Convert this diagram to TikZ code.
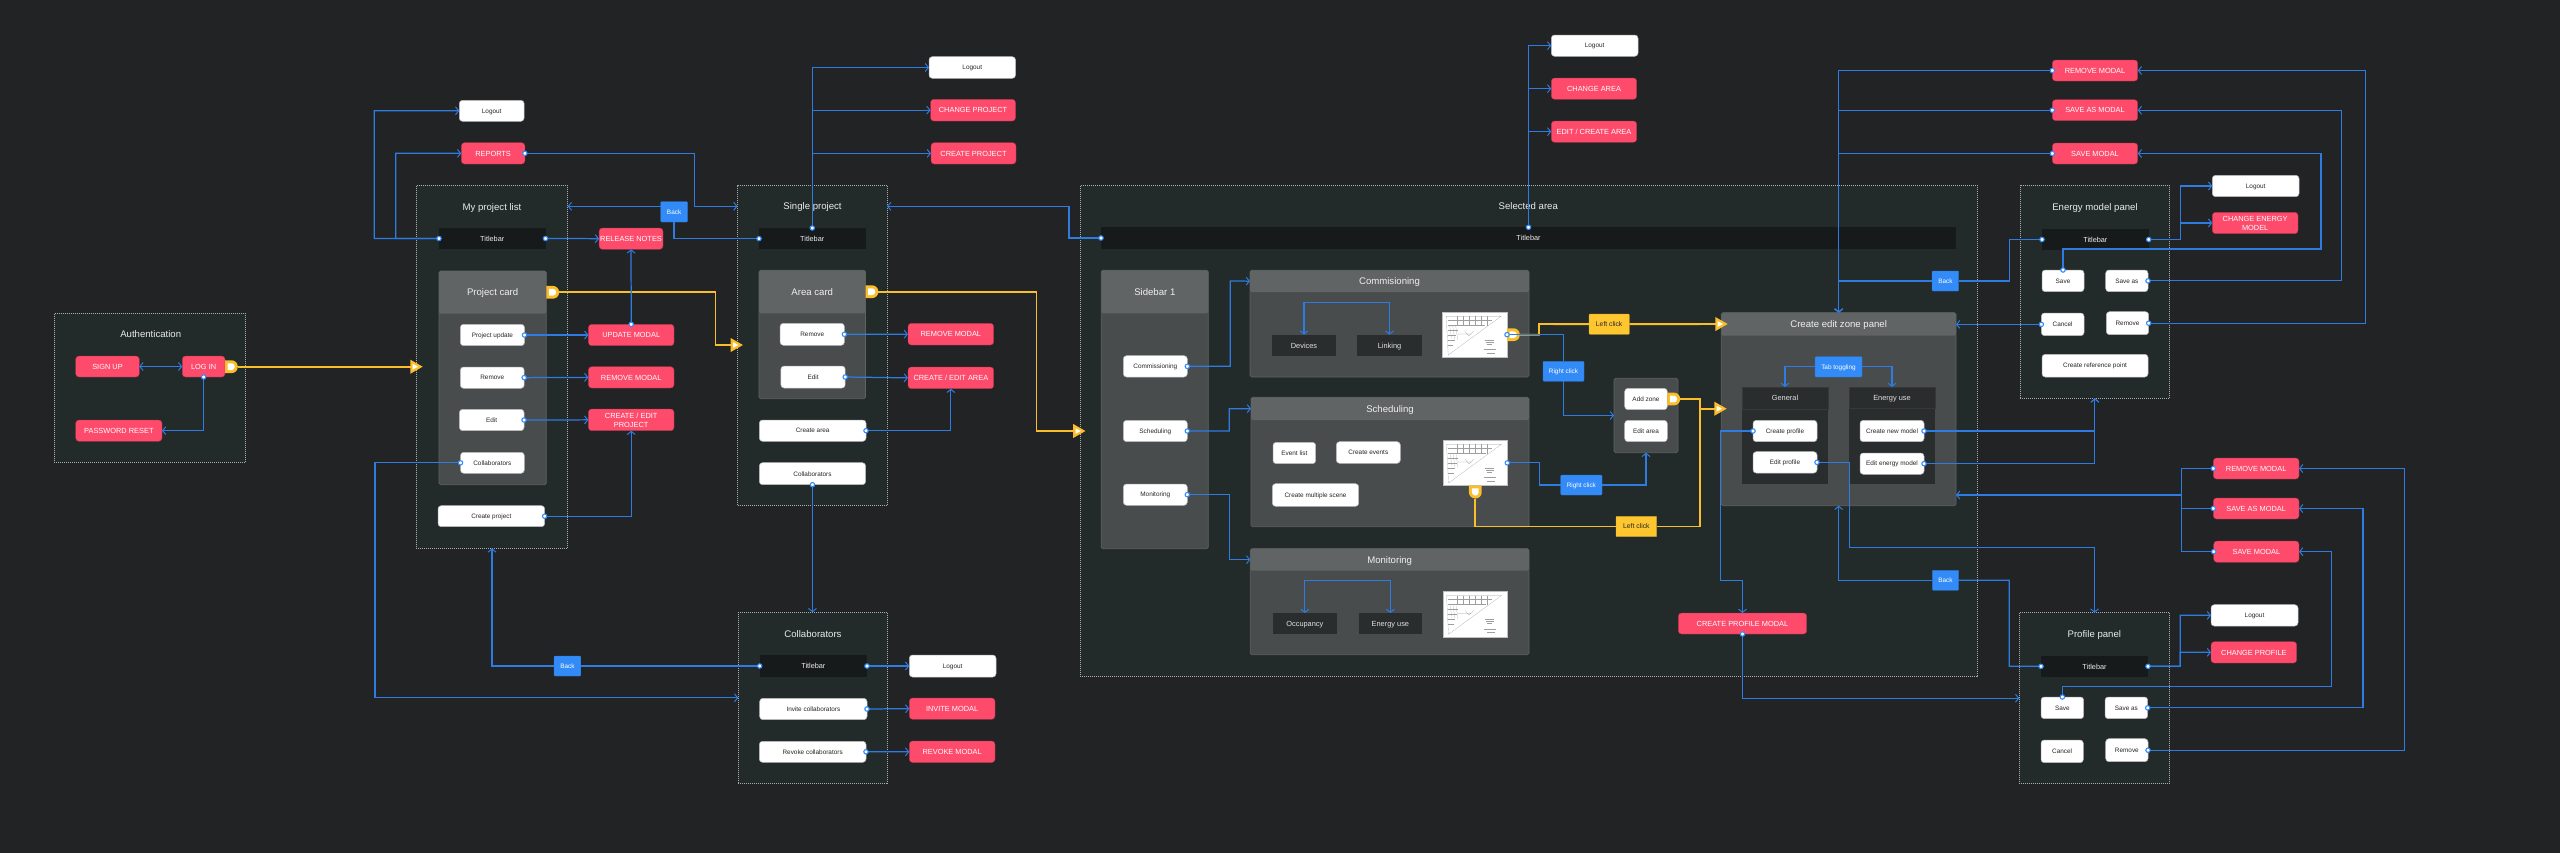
\documentclass[tikz,border=0pt]{standalone}
\usepackage{fontspec}
\setmainfont{Liberation Sans}
\usetikzlibrary{arrows.meta,calc}
\definecolor{bgc}{HTML}{212325}
\definecolor{panelc}{HTML}{222A2A}
\definecolor{bodyc}{HTML}{484C4C}
\definecolor{headc}{HTML}{606464}
\definecolor{barc}{HTML}{161A1B}
\definecolor{tabc}{HTML}{2A2D2E}
\definecolor{redc}{HTML}{FE4A6B}
\definecolor{bluec}{HTML}{2E7BE2}
\definecolor{backc}{HTML}{338BF8}
\definecolor{yelc}{HTML}{FBBE2B}
\definecolor{yelb}{HTML}{FEC72F}
\tikzset{
  base/.style={inner sep=0pt,outer sep=0pt,align=center,text depth=0pt},
  panelbox/.style={base,fill=panelc,draw=white!68!black,line width=.4pt,dash pattern=on .5pt off .5pt},
  title/.style={base,text=white!92!black,text height=3.45pt,font=\fontsize{4.8}{5.8}\selectfont},
  bodybox/.style={base,fill=bodyc,draw=white!38!black,line width=.35pt,rounded corners=.8pt},
  headbox/.style={base,fill=headc,rounded corners=.8pt,text=white!94!black,text height=3.45pt,font=\fontsize{4.8}{5.8}\selectfont},
  barbox/.style={base,fill=barc,text=white!92!black,text height=2.65pt,font=\fontsize{3.65}{4.5}\selectfont},
  btn/.style={base,fill=white,draw=white!72!black,line width=.25pt,rounded corners=1.6pt,text=black!85,text height=2.3pt,font=\fontsize{3.2}{4}\selectfont},
  modal/.style={base,fill=redc,draw=redc!70!black,line width=.15pt,rounded corners=1.6pt,text=white,text height=2.66pt,font=\fontsize{3.7}{4.5}\selectfont},
  modaltwo/.style={modal,text height=7.16pt},
  bluebox/.style={base,fill=backc,draw=backc!85!black,line width=.15pt,rounded corners=.4pt,text=white,text height=2.3pt,font=\fontsize{3.2}{4}\selectfont},
  yelbox/.style={base,fill=yelb,draw=yelb!85!black,line width=.15pt,rounded corners=.4pt,text=black!85,text height=2.45pt,font=\fontsize{3.4}{4}\selectfont},
  tabbox/.style={base,fill=tabc,text=white!88!black,text height=2.66pt,font=\fontsize{3.7}{4.5}\selectfont},
  planbox/.style={base,fill=white,draw=white!75!black,line width=.25pt},
  lnk/.style={draw=bluec,line width=.62pt,line join=miter},
  ah/.style={-{Straight Barb[length=1.6pt,width=4pt,line width=.5pt]}},
  ahb/.style={{Straight Barb[length=1.6pt,width=4pt,line width=.5pt]}-{Straight Barb[length=1.6pt,width=4pt,line width=.5pt]}},
  ylk/.style={draw=yelc,line width=.95pt,line join=miter},
  yah/.style={-{Triangle[length=6.2pt,width=6.8pt,fill=yelc]}},
  pdot/.style={fill=white,draw=backc,line width=.55pt},
  plan/.style={draw=black!38,line width=.08pt}
}
\newcommand\bx[7][btn]{\node[#1,minimum width={(#5-#3)*0.5pt},minimum height={(#6-#4)*0.5pt}] (#2) at ({(#3+#5)/2},{(#4+#6)/2}) {#7};}
\newcommand\dt[1]{\path[pdot] (#1) circle [radius=1.1pt];}
\newcommand\portE[3]{\begin{scope}[shift={(#2,#3)}]
  \fill[yelc] (0,-6.4) [rounded corners=3.1pt] -- (12.8,-6.4) -- (12.8,6.4) [sharp corners] -- (0,6.4) -- cycle;
  \fill[white] (2.7,-3.4) [rounded corners=1.6pt] -- (9.8,-3.4) -- (9.8,3.4) [sharp corners] -- (2.7,3.4) -- cycle;
  \coordinate (#1) at (12.8,0);\end{scope}}
\newcommand\portS[3]{\begin{scope}[shift={(#2,#3)}]
  \fill[yelc] (-6.4,0) [sharp corners] -- (6.4,0) [rounded corners=3.1pt] -- (6.4,12.8) -- (-6.4,12.8) [sharp corners] -- cycle;
  \fill[white] (-3.4,2.7) -- (3.4,2.7) [rounded corners=1.6pt] -- (3.4,9.8) -- (-3.4,9.8) [sharp corners] -- cycle;
  \coordinate (#1) at (0,12.8);\end{scope}}
\newcommand\ywhite[1]{\begin{scope}[shift={(#1)}]\fill[white] (-10,-2.8) -- (-4.6,0) -- (-10,2.8) -- cycle;\end{scope}}
\newcommand\fplan[1]{\begin{scope}[shift={(#1.north west)}]
  \draw[plan] (3.5,4.2) -- (58.5,4.2) -- (5.5,43) -- cycle;
  \foreach \u in {14,20,26,32,38,44} {\draw[plan] (\u,4.2) -- (\u,{min(14,4.2+(58.5-\u)*0.72)});}
  \foreach \v in {8,13} {\draw[plan] (5,\v) -- ({54-(\v-4.2)*1.3},\v);}
  \foreach \u in {7,10,13} {\draw[plan] (\u,14) -- (\u+2,{24+\u*.3});}
  \foreach \v in {18,23,28,33} {\draw[plan] (5,\v) -- ({15-(\v-18)*.3},\v);}
  \draw[plan] (15,22) -- (28,22) (22,19) -- (26,24) (26,24) -- (31,19);
  \draw[plan] (42,28) -- (51,28) (43,30) -- (51,30) (44,32) -- (49,32);
  \draw[plan] (41,37.5) -- (53,37.5) (44,41) -- (52,41);
\end{scope}}
\begin{document}
\begin{tikzpicture}[x=0.5pt,y=-0.5pt]
\useasboundingbox (0,0) rectangle (2560,852);
\fill[bgc] (-6,-6) rectangle (2566,858);
% Authentication
\bx[panelbox]{auth}{54.3}{313.3}{245.7}{462.3}{}
\node[title] (tAuth) at (150.7,334.3) {Authentication};
\bx[modal]{su}{75.7}{356}{139.3}{377}{SIGN UP}
\bx[modal]{li}{182.3}{356}{225}{377}{LOG IN}
\bx[modal]{pw}{75.7}{420}{162}{441.3}{PASSWORD RESET}
% My project list
\bx[panelbox]{my}{416.3}{185.3}{567.7}{548.3}{}
\node[title] (tMy) at (492,206.7) {My project list};
\bx[barbox]{tb1}{439}{228}{545.5}{249}{Titlebar}
\bx[bodybox]{pc}{439}{271}{546.3}{484.7}{}
\bx[headbox]{pch}{439}{271}{546.3}{313.7}{Project card}
\bx{pu}{460.3}{324.3}{524.5}{345.7}{Project update}
\bx{prm}{460.3}{367}{524.2}{388.3}{Remove}
\bx{ped}{459.4}{409.3}{524}{430.7}{Edit}
\bx{pcl}{460.5}{452.3}{524.3}{473.3}{Collaborators}
\bx{cp}{438}{505.7}{544.7}{526.7}{Create project}
\bx{log1}{459.3}{100.3}{524.1}{121.3}{Logout}
\bx[modal]{rep}{461.3}{142.7}{524.9}{164}{REPORTS}
\bx[modal]{um}{588.4}{324.3}{674}{345.7}{UPDATE MODAL}
\bx[modal]{rm1}{588.4}{366.7}{674}{388}{REMOVE MODAL}
\bx[modaltwo]{cep}{588.4}{409}{674}{430.7}{CREATE / EDIT\\PROJECT}
\bx[modal]{rn}{599.1}{228}{663}{249.3}{RELEASE NOTES}
\bx[bluebox]{bk1}{660.7}{201.7}{687.5}{222}{Back}
% Single project
\bx[panelbox]{sp}{737.5}{185.3}{887}{505.3}{}
\node[title] (tSp) at (812.5,206) {Single project};
\bx[barbox]{tb2}{759}{228}{865.5}{249.3}{Titlebar}
\bx[bodybox]{ac}{759}{270.3}{865.5}{398.7}{}
\bx[headbox]{ach}{759}{270.3}{865.5}{313.3}{Area card}
\bx{arm}{780.1}{323.3}{844.4}{345.3}{Remove}
\bx{aed}{780.9}{366}{845.2}{388}{Edit}
\bx{ca}{759.3}{420}{866}{441.3}{Create area}
\bx{acl}{759.3}{462.7}{865.6}{484.7}{Collaborators}
\bx{log2}{929}{56.7}{1015.5}{78.3}{Logout}
\bx[modal]{chp}{930.5}{99.3}{1015.5}{121}{CHANGE PROJECT}
\bx[modal]{crp}{931}{142.7}{1016}{164}{CREATE PROJECT}
\bx[modal]{rm2}{908}{323.3}{993.7}{345}{REMOVE MODAL}
\bx[modal]{cea}{908}{367}{993.7}{388.7}{CREATE / EDIT AREA}
% Collaborators
\bx[panelbox]{col}{738.3}{612.3}{887}{783.3}{}
\node[title] (tCol) at (813,633.7) {Collaborators};
\bx[barbox]{tb3}{759.7}{655.3}{867}{676.7}{Titlebar}
\bx{inv}{759.7}{698.3}{867}{719.7}{Invite collaborators}
\bx{rev}{759.3}{741.3}{866}{762.3}{Revoke collaborators}
\bx{log4}{909.3}{655}{996}{677}{Logout}
\bx[modal]{imd}{909.3}{698}{995}{719.3}{INVITE MODAL}
\bx[modal]{rmd}{909.3}{741}{995}{762.5}{REVOKE MODAL}
\bx[bluebox]{bk3}{554}{656}{580.8}{676}{Back}
% Selected area
\bx[panelbox]{sel}{1080.3}{185.3}{1977.3}{676.5}{}
\node[title] (tSel) at (1528.3,205.7) {Selected area};
\bx[barbox]{tb4}{1101}{227.3}{1956}{248.7}{Titlebar}
\bx{log3}{1551.3}{35}{1638}{56.3}{Logout}
\bx[modal]{cha}{1551.3}{78}{1636.7}{99.3}{CHANGE AREA}
\bx[modal]{eca}{1551.3}{121}{1636.7}{142.3}{EDIT / CREATE AREA}
\bx[bodybox]{sb}{1101.3}{270.3}{1208.3}{548.7}{}
\bx[headbox]{sbh}{1101.3}{270.3}{1208.3}{313.3}{Sidebar 1}
\bx{bc}{1123.3}{355.7}{1187.3}{377}{Commissioning}
\bx{bs}{1123.3}{420.3}{1187.3}{441.7}{Scheduling}
\bx{bm}{1123.3}{484}{1187.3}{505.3}{Monitoring}
\bx[bodybox]{cmp}{1250}{270.3}{1529}{377}{}
\bx[headbox]{cmph}{1250}{270.3}{1529}{292}{Commisioning}
\bx[bodybox]{sch}{1251}{397.3}{1529}{526.7}{}
\bx[headbox]{schh}{1251}{397.3}{1529}{420}{Scheduling}
\bx[bodybox]{mon}{1250.3}{548.7}{1529}{654.7}{}
\bx[headbox]{monh}{1250.3}{548.7}{1529}{570.7}{Monitoring}
\bx[tabbox]{dev}{1272}{334.7}{1336}{356}{Devices}
\bx[tabbox]{lkn}{1357.3}{334.7}{1421.7}{356}{Linking}
\bx[tabbox]{occ}{1273}{613}{1336.7}{634.3}{Occupancy}
\bx[tabbox]{enu}{1358.7}{613}{1422}{634.3}{Energy use}
\bx{evl}{1273}{442.3}{1315.7}{463.7}{Event list}
\bx{cev}{1336.3}{441.7}{1400.3}{463.3}{Create events}
\bx{cms}{1272.3}{483.7}{1358.7}{506.3}{Create multiple scene}
\bx[planbox]{fp1}{1442.7}{312}{1507}{357.3}{}
\fplan{fp1}
\bx[planbox]{fp2}{1443}{440}{1507.3}{485.7}{}
\fplan{fp2}
\bx[planbox]{fp3}{1443}{591.3}{1507.3}{637}{}
\fplan{fp3}
% Zone popup
\bx[bodybox]{zp}{1614}{378.3}{1678}{452.7}{}
\bx{az}{1624.7}{388.3}{1667.3}{409.7}{Add zone}
\bx{ea}{1624.7}{420.3}{1667.3}{441.7}{Edit area}
\bx[bluebox]{rc1}{1543}{361.3}{1584}{381.3}{Right click}
\bx[bluebox]{rc2}{1560.7}{475}{1602}{495}{Right click}
\bx[yelbox]{lc1}{1589}{314}{1629.3}{334.3}{Left click}
\bx[yelbox]{lc2}{1616}{516.3}{1656.7}{536.7}{Left click}
% Create edit zone panel
\bx[bodybox]{cz}{1721.3}{312.7}{1956}{505.7}{}
\bx[headbox]{czh}{1721.3}{312.7}{1956}{335.7}{Create edit zone panel}
\bx[bluebox]{tab}{1815}{356.7}{1862}{377}{Tab toggling}
\bx[tabbox]{gen}{1742}{387}{1828}{484}{}
\bx[tabbox,draw=white!22!black,line width=.2pt]{genh}{1742}{387}{1828}{409.3}{General}
\bx[tabbox]{eng}{1849}{387}{1935}{484}{}
\bx[tabbox,draw=white!22!black,line width=.2pt]{engh}{1849}{387}{1935}{408.3}{Energy use}
\bx{cpf}{1753}{420.3}{1817}{441.7}{Create profile}
\bx{epf}{1753}{451.7}{1817}{473}{Edit profile}
\bx{cnm}{1860}{420.3}{1924}{441.7}{Create new model}
\bx{eem}{1860}{453}{1924}{474.3}{Edit energy model}
\bx[modal]{cpm}{1678.3}{613}{1806.7}{634}{CREATE PROFILE MODAL}
\bx[bluebox]{bk4}{1932}{271}{1958.7}{291}{Back}
\bx[bluebox]{bk5}{1932.3}{570.3}{1958.7}{590.3}{Back}
% Energy model panel
\bx[panelbox]{em}{2020}{185.3}{2169.7}{398.3}{}
\node[title] (tEm) at (2095,206.7) {Energy model panel};
\bx[barbox]{tb5}{2042}{229}{2148.7}{250}{Titlebar}
\bx{ems}{2042}{270}{2084}{291.7}{Save}
\bx{ema}{2105.7}{270}{2148}{291.7}{Save as}
\bx{emc}{2041.3}{313}{2084}{335.7}{Cancel}
\bx{emr}{2106.3}{311.7}{2148.7}{334.7}{Remove}
\bx{crf}{2042}{354.3}{2148}{377}{Create reference point}
\bx{elog}{2212.3}{175.3}{2299}{196.7}{Logout}
\bx[modaltwo]{cem}{2212.3}{212.3}{2298}{233.7}{CHANGE ENERGY\\MODEL}
\bx[modal]{rmA}{2052.3}{60}{2137.7}{81}{REMOVE MODAL}
\bx[modal]{saA}{2052.3}{99.7}{2137.7}{120.7}{SAVE AS MODAL}
\bx[modal]{svA}{2052.3}{143}{2137.7}{164}{SAVE MODAL}
% Profile panel
\bx[panelbox]{pp}{2019.3}{612.7}{2169.7}{783.7}{}
\node[title] (tPp) at (2094.3,633.7) {Profile panel};
\bx[barbox]{tb6}{2041}{655.7}{2148}{677}{Titlebar}
\bx{pps}{2041}{697}{2083.7}{718.7}{Save}
\bx{ppa}{2105}{697}{2147.7}{718.7}{Save as}
\bx{ppc}{2041}{740}{2083.3}{762.7}{Cancel}
\bx{ppr}{2105.7}{738.7}{2148}{761.7}{Remove}
\bx{plog}{2211}{604.7}{2298}{626}{Logout}
\bx[modal]{cpr}{2211}{641.7}{2296.7}{663}{CHANGE PROFILE}
\bx[modal]{rmB}{2213.3}{458}{2299}{479}{REMOVE MODAL}
\bx[modal]{saB}{2213.3}{498}{2299}{519}{SAVE AS MODAL}
\bx[modal]{svB}{2213.7}{541}{2299}{562.3}{SAVE MODAL}
% Yellow flows
\portE{pLi}{225}{366.7}
\portE{pPc}{546.3}{292.3}
\portE{pAc}{865.5}{291.7}
\portE{pF1}{1507}{334.7}
\portE{pAz}{1667.3}{399}
\portS{pF2}{1475.3}{485.7}
\coordinate (yA) at (422.7,366.7);
\coordinate (yB) at (743,345);
\coordinate (yC) at (1085.5,431);
\coordinate (yD) at (1727.7,324);
\coordinate (yE) at (1726.7,408.7);
\draw[ylk,yah] (pLi) -- (yA);
\draw[ylk,yah] (pPc) -| (715.5,345) -- (yB);
\draw[ylk,yah] (pAc) -| (1036.5,431) -- (yC);
\draw[ylk] (pF1) -| (1539,324) -- (lc1.west);
\draw[ylk,yah] (lc1.east) -- (yD);
\draw[ylk] (pF2) |- (lc2.west);
\draw[ylk] (lc2.east) -| (1699.6,408.7);
\draw[ylk,yah] (pAz) -| (1699.6,408.7) -- (yE);
\ywhite{yA}\ywhite{yB}\ywhite{yC}\ywhite{yD}\ywhite{yE}
% Auth connectors
\draw[lnk,ahb] (su.east) -- (li.west);
\draw[lnk,ah] (li.south) |- (pw.east);
% My project list connectors
\draw[lnk,ah] (tb1.west) -| (374.3,110.7) -- (log1.west);
\draw[lnk,ah] (tb1.west) -| (395.7,153.3) -- (rep.west);
\draw[lnk,ah] (tb1.east) -- (rn.west);
\draw[lnk,ah] (um.north) -- (rn.south);
\draw[lnk,ah] (pu.east) -- (um.west);
\draw[lnk,ah] (prm.east) -- (rm1.west);
\draw[lnk,ah] (ped.east) -- (cep.west);
\draw[lnk,ah] (cp.east) -| (cep.south);
\draw[lnk,ah] (rep.east) -| (694.4,206.3) -- (sp.west |- 0,206.3);
\draw[lnk] (tb2.west) -| (bk1.south);
\draw[lnk,ah] (bk1.west |- 0,206.3) -- (my.east |- 0,206.3);
\draw[lnk,ah] (pcl.west) -| (374.9,697.8) -- (col.west);
% Single project connectors
\draw[lnk,ah] (tb2.north) |- (log2.west);
\draw[lnk,ah] (tb2.north) |- (chp.west);
\draw[lnk,ah] (tb2.north) |- (crp.west);
\draw[lnk,ah] (arm.east) -- (rm2.west);
\draw[lnk,ah] (aed.east) -- (cea.west);
\draw[lnk,ah] (ca.east) -| (cea.south);
\draw[lnk,ah] (acl.south) -- (acl.south |- col.north);
% Collaborators connectors
\draw[lnk] (tb3.west) -- (bk3.east);
\draw[lnk,ah] (bk3.west) -| (my.south);
\draw[lnk,ah] (tb3.east) -- (log4.west);
\draw[lnk,ah] (inv.east) -- (imd.west);
\draw[lnk,ah] (rev.east) -- (rmd.west);
% Selected area connectors
\draw[lnk,ah] (tb4.north) |- (log3.west);
\draw[lnk,ah] (tb4.north) |- (cha.west);
\draw[lnk,ah] (tb4.north) |- (eca.west);
\draw[lnk,ah] (tb4.west) -| (1069,206.3) -- (sp.east |- 0,206.3);
\draw[lnk,ah] (bc.east) -| (1230.3,281) -- (cmph.west);
\draw[lnk,ah] (bs.east) -| (1229.3,408.7) -- (schh.west);
\draw[lnk,ah] (bm.east) -| (1229.3,559.7) -- (monh.west);
\draw[lnk,ahb] (dev.north) |- (1390,302.7) -| (lkn.north);
\draw[lnk,ahb] (occ.north) |- (1390,580.7) -| (enu.north);
\draw[lnk] (fp1.east) -| (rc1.north);
\draw[lnk,ah] (rc1.south) |- (zp.west);
\draw[lnk] (fp2.east) -| (1539.3,485) -- (rc2.west);
\draw[lnk,ah] (rc2.east) -| (zp.south);
% Create edit zone connectors
\draw[lnk,ah] (tab.west) -| (genh.north);
\draw[lnk,ah] (tab.east) -| (engh.north);
\draw[lnk,ah] (cpf.west) -| (1720.7,580.7) -| (cpm.north);
\draw[lnk,ah] (cpm.south) |- (pp.west);
\draw[lnk,ah] (epf.east) -| (1849.3,547.3) -| (pp.north);
\draw[lnk,ah] (bk5.west) -| (cz.south);
\draw[lnk] (bk5.east) -| (2009.3,666.3) -- (tb6.west);
\draw[lnk,ah] (cnm.east) -| (em.south);
\draw[lnk,ah] (eem.east) -| (em.south);
\draw[lnk,ah] (rmB.west) -| (2181.3,495) -- (cz.east |- 0,495);
\draw[lnk] (saB.west) -| (2181.3,495);
\draw[lnk] (svB.west) -| (2181.3,495);
\draw[lnk,ah] (rmA.west) -| (cz.north);
\draw[lnk,ah] (saA.west) -| (cz.north);
\draw[lnk,ah] (svA.west) -| (cz.north);
\draw[lnk,ah] (bk4.west) -| (cz.north);
\draw[lnk] (bk4.east) -| (2009.7,239.5) -- (tb5.west);
\draw[lnk,ah] (emc.west) -- (cz.east |- emc.west);
% Energy panel connectors
\draw[lnk,ah] (tb5.east) -| (2180.3,186) -- (elog.west);
\draw[lnk,ah] (tb5.east) -| (2180.3,223) -- (cem.west);
\draw[lnk,ah] (ems.north) |- (2321,249) |- (svA.east);
\draw[lnk,ah] (ema.east) -| (2341.7,110.2) -- (saA.east);
\draw[lnk,ah] (emr.east) -| (2365.3,70.5) -- (rmA.east);
% Profile panel connectors
\draw[lnk,ah] (tb6.east) -| (2180.3,615.3) -- (plog.west);
\draw[lnk,ah] (tb6.east) -| (2180.3,652.3) -- (cpr.west);
\draw[lnk,ah] (pps.north) |- (2331.3,686.3) |- (svB.east);
\draw[lnk,ah] (ppa.east) -| (2363,508.5) -- (saB.east);
\draw[lnk,ah] (ppr.east) -| (2404.3,468.5) -- (rmB.east);
% Dots
\foreach \p in {li.south,tb1.west,tb1.east,um.north,pu.east,prm.east,ped.east,pcl.west,cp.east,rep.east,
  tb2.west,tb2.north,arm.east,aed.east,ca.east,acl.south,tb3.west,tb3.east,inv.east,rev.east,
  tb4.north,tb4.west,bc.east,bs.east,bm.east,fp1.east,fp2.east,cpf.west,epf.east,cnm.east,eem.east,cpm.south,
  rmA.west,saA.west,svA.west,rmB.west,saB.west,svB.west,tb5.west,tb5.east,ems.north,ema.east,emc.west,emr.east,
  tb6.west,tb6.east,pps.north,ppa.east,ppr.east} {\dt{\p}}
\end{tikzpicture}
\end{document}
